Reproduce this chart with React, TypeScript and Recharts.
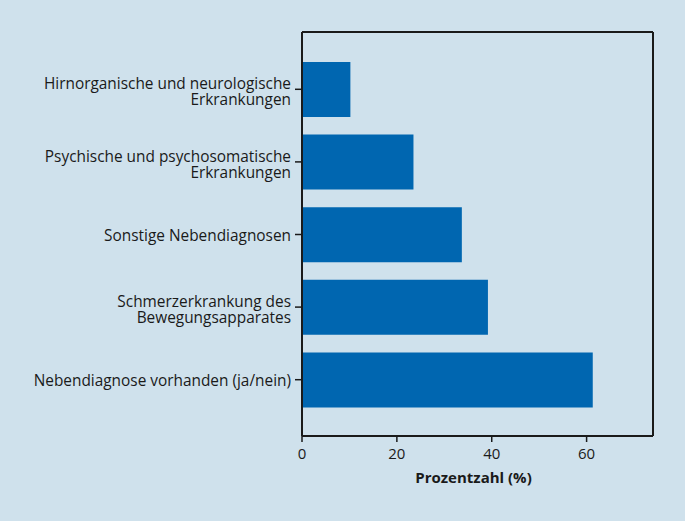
import React from "react";
import { BarChart, Bar, XAxis, YAxis, Label, CartesianGrid } from "recharts";

const categories = [
  "Hirnorganische und neurologische\nErkrankungen",
  "Psychische und psychosomatische\nErkrankungen",
  "Sonstige Nebendiagnosen",
  "Schmerzerkrankung des\nBewegungsapparates",
  "Nebendiagnose vorhanden (ja/nein)",
];
const values = [10.2, 23.5, 33.7, 39.2, 61.3];
const xTicks = [0, 20, 40, 60];

const data = categories.map((c, i) => ({ name: c, value: values[i] }));

const FONT = "'Open Sans', sans-serif";
const TEXT = "#1a1a1a";

const YTick = (props: any) => {
  const { x, y, payload } = props;
  const lines: string[] = String(payload.value).split("\n");
  const lh = 16;
  const first = lines.length === 1 ? 6 : 0;
  return (
    <g>
      {lines.map((l, i) => (
        <text
          key={i}
          x={x}
          y={y + first + i * lh}
          textAnchor="end"
          fontFamily={FONT}
          fontSize={15.4}
          fill={TEXT}
        >
          {l}
        </text>
      ))}
    </g>
  );
};

export default function App() {
  return (
    <div style={{ position: "absolute", left: 0, top: 0, width: 685, height: 521, background: "#cfe1ec" }}>
      <BarChart
        width={685}
        height={521}
        data={data}
        layout="vertical"
        margin={{ top: 32, right: 32, bottom: 0, left: 0 }}
      >
        <CartesianGrid
          stroke="#1a1a1a"
          strokeWidth={2}
          horizontalCoordinatesGenerator={(p: any) => [p.offset.top, p.offset.top + p.offset.height]}
          verticalCoordinatesGenerator={(p: any) => [p.offset.left, p.offset.left + p.offset.width]}
        />
        <XAxis
          type="number"
          dataKey="value"
          domain={[0, 74]}
          ticks={xTicks}
          allowDataOverflow
          height={85}
          axisLine={{ stroke: "#1a1a1a", strokeWidth: 2 }}
          tickLine={{ stroke: "#1a1a1a", strokeWidth: 1.5 }}
          tickSize={6}
          tick={{ fill: TEXT, fontSize: 15, fontFamily: FONT, dy: 4 }}
        >
          <Label
            value="Prozentzahl (%)"
            position="insideTop"
            offset={36}
            dx={-4}
            style={{ fontWeight: 700, fontSize: 15, fontFamily: FONT, fill: TEXT }}
          />
        </XAxis>
        <YAxis
          type="category"
          dataKey="name"
          width={302}
          padding={{ top: 21, bottom: 20 }}
          axisLine={{ stroke: "#1a1a1a", strokeWidth: 2 }}
          tickLine={{ stroke: "#1a1a1a", strokeWidth: 1.5 }}
          tickSize={7}
          tickMargin={4}
          interval={0}
          tick={<YTick />}
        />
        <Bar dataKey="value" fill="#0066b0" barSize={55} isAnimationActive={false} />
      </BarChart>
    </div>
  );
}
